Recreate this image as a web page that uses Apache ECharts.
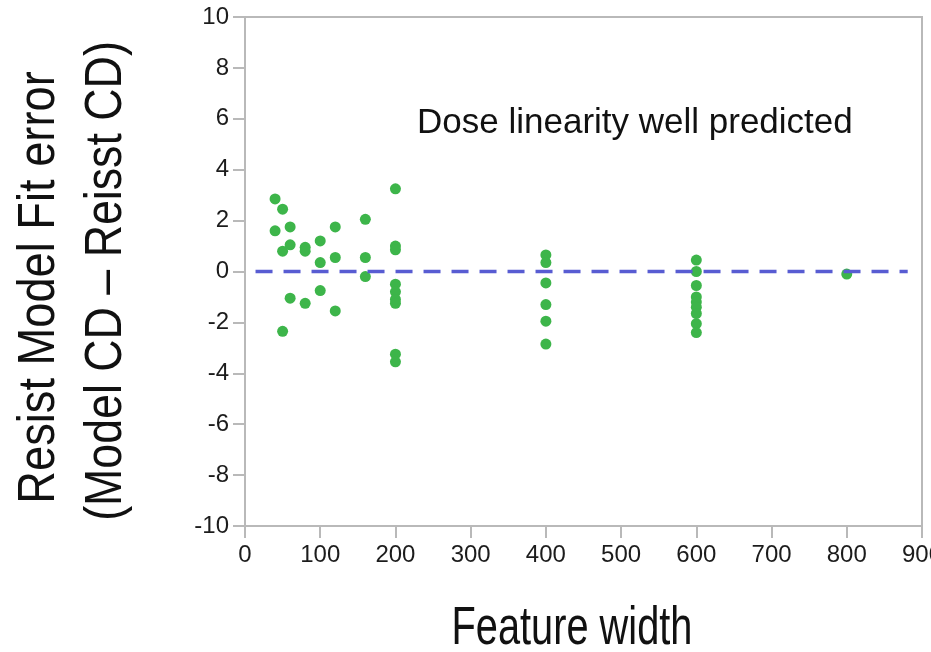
<!DOCTYPE html>
<html>
<head>
<meta charset="utf-8">
<script src="https://cdn.jsdelivr.net/npm/echarts@6/dist/echarts.min.js"></script>
<style>
  html, body { margin: 0; padding: 0; background: #ffffff; }
  #chart { width: 931px; height: 652px; }
</style>
</head>
<body>
<div id="chart"></div>
<script>
// Feature width (x) and resist model fit error (y) for each measured feature
const featureWidth = [
  40, 40,
  50, 50, 50,
  60, 60, 60,
  80, 80, 80,
  100, 100, 100,
  120, 120, 120,
  160, 160, 160,
  200, 200, 200, 200, 200, 200, 200, 200, 200,
  400, 400, 400, 400, 400, 400,
  600, 600, 600, 600, 600, 600, 600, 600, 600,
  800
];
const fitError = [
  2.85, 1.6,
  2.45, 0.8, -2.35,
  1.75, 1.05, -1.05,
  0.95, 0.8, -1.25,
  1.2, 0.35, -0.75,
  1.75, 0.55, -1.55,
  2.05, 0.55, -0.2,
  3.25, 1.0, 0.85, -0.5, -0.8, -1.1, -1.25, -3.25, -3.55,
  0.65, 0.35, -0.45, -1.3, -1.95, -2.85,
  0.45, 0.0, -0.55, -1.0, -1.2, -1.4, -1.65, -2.05, -2.4,
  -0.1
];

// Zero-error reference line
const refLineX = [14, 881];
const refLineY = [0, 0];

// Axis ranges and tick steps
const xRange = [0, 900];
const xStep = 100;
const yRange = [-10, 10];
const yStep = 2;

const titleY1 = 'Resist Model Fit error';
const titleY2 = '(Model CD \u2013 Reisst CD)';
const titleX = 'Feature width';
const note = 'Dose linearity well predicted';

const points = featureWidth.map((x, i) => [x, fitError[i]]);
const refLine = refLineX.map((x, i) => [x, refLineY[i]]);

const axisGray = '#b9b9b9';
const tickFont = "'Liberation Sans', Arial, sans-serif";
const textFont = "'Liberation Sans', Arial, sans-serif";

const chart = echarts.init(document.getElementById('chart'), null, { renderer: 'canvas' });

chart.setOption({
  animation: false,
  backgroundColor: '#ffffff',
  grid: {
    left: 245, right: 9, top: 17, bottom: 126,
    containLabel: false, outerBoundsMode: 'none',
    show: true, borderColor: axisGray, borderWidth: 2, backgroundColor: 'transparent'
  },
  xAxis: {
    type: 'value',
    min: xRange[0], max: xRange[1], interval: xStep,
    axisLine: { show: true, onZero: false, lineStyle: { color: axisGray, width: 2 } },
    axisTick: { show: true, length: 12, lineStyle: { color: axisGray, width: 2 } },
    axisLabel: { fontFamily: tickFont, fontSize: 24, color: '#1c1c1c', margin: 17, hideOverlap: false },
    splitLine: { show: false }
  },
  yAxis: {
    type: 'value',
    min: yRange[0], max: yRange[1], interval: yStep,
    axisLine: { show: true, onZero: false, lineStyle: { color: axisGray, width: 2 } },
    axisTick: { show: true, length: 12, lineStyle: { color: axisGray, width: 2 } },
    axisLabel: { fontFamily: tickFont, fontSize: 24, color: '#1c1c1c', margin: 16 },
    splitLine: { show: false }
  },
  series: [
    {
      type: 'scatter',
      data: points,
      symbol: 'circle',
      symbolSize: 11,
      itemStyle: { color: '#3db54a', opacity: 1 },
      z: 2
    },
    {
      type: 'line',
      data: refLine,
      symbol: 'none',
      lineStyle: { color: '#585cd2', width: 3.5, type: [17, 11] },
      z: 3
    }
  ],
  graphic: [
    {
      type: 'text', x: 417, y: 123,
      style: { text: note, font: '35px ' + textFont, fill: '#111', textAlign: 'left', textVerticalAlign: 'middle' }
    },
    {
      type: 'text', x: 572, y: 629, scaleX: 0.75,
      style: { text: titleX, font: '53px ' + textFont, fill: '#111', textAlign: 'center', textVerticalAlign: 'middle' }
    },
    {
      type: 'text', x: 39.5, y: 287.5, rotation: Math.PI / 2, scaleX: 0.87,
      style: { text: titleY1, font: '52px ' + textFont, fill: '#111', textAlign: 'center', textVerticalAlign: 'middle' }
    },
    {
      type: 'text', x: 106.5, y: 281, rotation: Math.PI / 2, scaleX: 0.86,
      style: { text: titleY2, font: '52px ' + textFont, fill: '#111', textAlign: 'center', textVerticalAlign: 'middle' }
    }
  ]
});
</script>
</body>
</html>
